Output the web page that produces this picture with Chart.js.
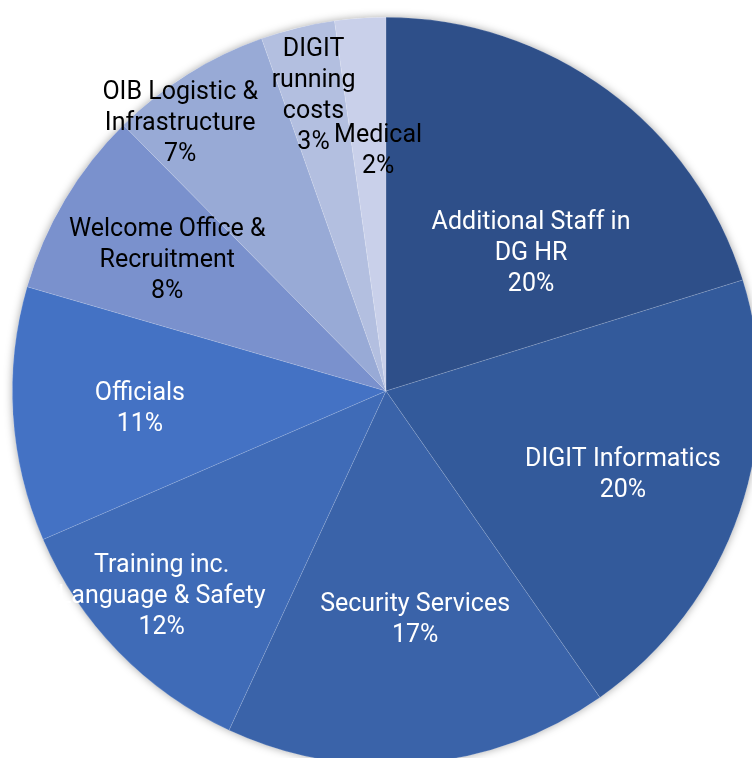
<!DOCTYPE html>
<html>
<head>
<meta charset="utf-8">
<script src="https://cdn.jsdelivr.net/npm/chart.js@4.4.1/dist/chart.umd.min.js"></script>
<style>
  html, body { margin: 0; padding: 0; background: #fff; overflow: hidden; }
  #wrap { position: absolute; left: 0; top: 0; width: 772px; height: 782px; }
</style>
</head>
<body>
<div id="wrap"><canvas id="budgetPie"></canvas></div>
<script>
const categories = [
    'Additional Staff in DG HR',
    'DIGIT Informatics',
    'Security Services',
    'Training inc. Language & Safety',
    'Officials',
    'Welcome Office & Recruitment',
    'OIB Logistic & Infrastructure',
    'DIGIT running costs',
    'Medical'
]

// how the labels wrap in the picture
const labelLines = [
    ['Additional Staff in', 'DG HR'],
    ['DIGIT Informatics'],
    ['Security Services'],
    ['Training inc.', 'Language & Safety'],
    ['Officials'],
    ['Welcome Office &', 'Recruitment'],
    ['OIB Logistic &', 'Infrastructure'],
    ['DIGIT', 'running', 'costs'],
    ['Medical']
]

// share of the total, %
const shares = [20.2, 20.1, 16.6, 11.6, 11.0, 8.1, 7.0, 3.2, 2.2]

const sliceColors = ['#2e4f89', '#335a9b', '#3a63a9', '#3f6bb7', '#4472c4', '#7a91cd', '#98aad6', '#b3bfe0', '#c9d0ea']
const textColors = ['#fff', '#fff', '#fff', '#fff', '#fff', '#000', '#000', '#000', '#000']

// where excel put each label: fraction of radius, angle shift from the slice middle (deg)
const labelSpots = [
    { r: 0.54, da: 9.6 },
    { r: 0.67, da: 0 },
    { r: 0.61, da: -2.3 },
    { r: 0.81, da: 2.1 },
    { r: 0.66, da: 0 },
    { r: 0.685, da: 0.5 },
    { r: 0.91, da: -5.2 },
    { r: 0.82, da: 0 },
    { r: 0.65, da: 2.1 }
]

const pieShadow = {
    id: 'pieShadow',
    beforeDatasetsDraw(chart) {
        const arc = chart.getDatasetMeta(0).data[0]
        if (!arc) return
        const ctx = chart.ctx
        ctx.save()
        ctx.shadowColor = 'rgba(0,0,0,0.35)'
        ctx.shadowBlur = 9
        ctx.fillStyle = '#fff'
        ctx.beginPath()
        ctx.arc(arc.x, arc.y, arc.outerRadius, 0, Math.PI * 2)
        ctx.fill()
        ctx.restore()
    }
}

const sliceLabels = {
    id: 'sliceLabels',
    afterDatasetsDraw(chart) {
        const ctx = chart.ctx
        const lineH = 31
        ctx.save()
        ctx.font = '25px Roboto'
        ctx.textAlign = 'center'
        ctx.textBaseline = 'middle'
        chart.getDatasetMeta(0).data.forEach(function (arc, i) {
            const spot = labelSpots[i]
            const mid = (arc.startAngle + arc.endAngle) / 2 + spot.da * Math.PI / 180
            const cx = arc.x + Math.cos(mid) * arc.outerRadius * spot.r
            const cy = arc.y + Math.sin(mid) * arc.outerRadius * spot.r + 3
            const lines = labelLines[i].concat([Math.round(shares[i]) + '%'])
            const top = cy - (lines.length - 1) * lineH / 2
            ctx.fillStyle = textColors[i]
            lines.forEach(function (t, j) {
                ctx.fillText(t, cx, top + j * lineH)
            })
        })
        ctx.restore()
    }
}

const budgetPie = new Chart(document.getElementById('budgetPie'), {
    type: 'pie',
    data: {
        labels: categories,
        datasets: [{
            data: shares,
            backgroundColor: sliceColors,
            borderColor: 'rgba(255,255,255,0.2)',
            borderWidth: 0.6
        }]
    },
    options: {
        responsive: true,
        maintainAspectRatio: false,
        animation: false,
        layout: { padding: 12 },
        plugins: {
            legend: { display: false },
            tooltip: { enabled: false }
        }
    },
    plugins: [pieShadow, sliceLabels]
})
</script>
</body>
</html>
